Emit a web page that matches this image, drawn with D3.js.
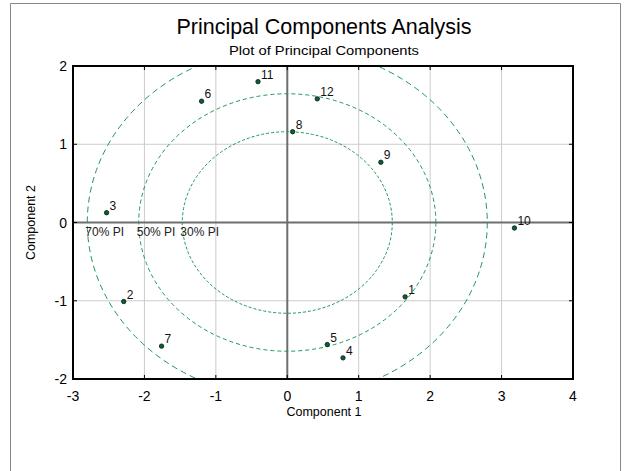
<!DOCTYPE html>
<html><head><meta charset="utf-8">
<script src="https://cdn.jsdelivr.net/npm/d3@7"></script>
<style>body{margin:0;background:#fff}svg{display:block;font-family:"Liberation Sans",Arial,sans-serif}</style>
</head><body>
<script>
const pointIds = ["1","2","3","4","5","6","7","8","9","10","11","12"];
const comp1 = [1.65,-2.29,-2.53,0.78,0.56,-1.20,-1.76,0.075,1.31,3.18,-0.41,0.42];
const comp2 = [-0.95,-1.01,0.125,-1.73,-1.56,1.55,-1.58,1.16,0.77,-0.07,1.80,1.58];
const ellipseLabels = ["70% PI","50% PI","30% PI"];
const ellipseRx = [2.80,2.08,1.47];
const ellipseRy = [2.24,1.645,1.16];
const xTicks = [-3,-2,-1,0,1,2,3,4];
const yTicks = [-2,-1,0,1,2];

const W=627,H=471;
const m={l:73,r:573,t:66,b:379};
const svg=d3.select("body").append("svg").attr("width",W).attr("height",H);
const x=d3.scaleLinear().domain([-3,4]).range([m.l,m.r]);
const y=d3.scaleLinear().domain([-2,2]).range([m.b,m.t]);

// outer frame
svg.append("path").attr("d",`M10.5,${H+2} V3.5 H620.5 V${H+2}`).attr("fill","none").attr("stroke","#888").attr("stroke-width",1);

svg.append("text").attr("x",324).attr("y",34).attr("text-anchor","middle").attr("font-size",21.5).attr("fill","#000").text("Principal Components Analysis");
svg.append("text").attr("x",324).attr("y",55).attr("text-anchor","middle").attr("font-size",13).attr("textLength",190).attr("lengthAdjust","spacingAndGlyphs").attr("fill","#000").text("Plot of Principal Components");

svg.append("clipPath").attr("id","pc").append("rect").attr("x",m.l).attr("y",m.t).attr("width",m.r-m.l).attr("height",m.b-m.t);

// grid
const g=svg.append("g");
g.selectAll(".gx").data(xTicks.filter(d=>d!==0&&d!==-3&&d!==4)).enter().append("line")
 .attr("x1",d=>x(d)).attr("x2",d=>x(d)).attr("y1",m.t).attr("y2",m.b).attr("stroke","#cccccc").attr("stroke-width",1);
g.selectAll(".gy").data(yTicks.filter(d=>d!==0&&d!==-2&&d!==2)).enter().append("line")
 .attr("y1",d=>y(d)).attr("y2",d=>y(d)).attr("x1",m.l).attr("x2",m.r).attr("stroke","#cccccc").attr("stroke-width",1);
// zero lines
g.append("line").attr("x1",x(0)).attr("x2",x(0)).attr("y1",m.t).attr("y2",m.b).attr("stroke","#6e6e6e").attr("stroke-width",2);
g.append("line").attr("y1",y(0)).attr("y2",y(0)).attr("x1",m.l).attr("x2",m.r).attr("stroke","#6e6e6e").attr("stroke-width",2);

// ellipses
const dashes=["6,4","4,3","3,2"];
const eg=svg.append("g").attr("clip-path","url(#pc)");
eg.selectAll("ellipse").data(ellipseRx).enter().append("ellipse")
 .attr("cx",x(0)).attr("cy",y(0))
 .attr("rx",d=>x(d)-x(0)).attr("ry",(d,i)=>y(0)-y(ellipseRy[i]))
 .attr("fill","none").attr("stroke","#1e9657").attr("stroke-width",1).attr("stroke-dasharray",(d,i)=>dashes[i]);
svg.selectAll(".el").data(ellipseLabels).enter().append("text")
 .attr("x",(d,i)=>x(-ellipseRx[i])-2).attr("y",y(0)+13).attr("font-size",12).attr("fill","#222").text(d=>d);

// border
svg.append("rect").attr("x",m.l).attr("y",m.t).attr("width",m.r-m.l).attr("height",m.b-m.t).attr("fill","none").attr("stroke","#000").attr("stroke-width",2);

// inner ticks
svg.selectAll(".tb").data(xTicks).enter().append("line").attr("x1",d=>x(d)).attr("x2",d=>x(d)).attr("y1",m.b).attr("y2",m.b-4).attr("stroke","#000").attr("stroke-width",1);
svg.selectAll(".tt").data(xTicks).enter().append("line").attr("x1",d=>x(d)).attr("x2",d=>x(d)).attr("y1",m.t).attr("y2",m.t+4).attr("stroke","#000").attr("stroke-width",1);
svg.selectAll(".tl").data(yTicks).enter().append("line").attr("y1",d=>y(d)).attr("y2",d=>y(d)).attr("x1",m.l).attr("x2",m.l+4).attr("stroke","#000").attr("stroke-width",1);
svg.selectAll(".tr").data(yTicks).enter().append("line").attr("y1",d=>y(d)).attr("y2",d=>y(d)).attr("x1",m.r).attr("x2",m.r-4).attr("stroke","#000").attr("stroke-width",1);

// tick labels
svg.selectAll(".xl").data(xTicks).enter().append("text").attr("x",d=>x(d)).attr("y",401).attr("text-anchor","middle").attr("font-size",14).text(d=>d);
svg.selectAll(".yl").data(yTicks).enter().append("text").attr("x",67).attr("y",d=>y(d)+5).attr("text-anchor","end").attr("font-size",14).text(d=>d);

svg.append("text").attr("x",324).attr("y",416).attr("text-anchor","middle").attr("font-size",12.5).text("Component 1");
svg.append("text").attr("transform",`translate(35,${(m.t+m.b)/2}) rotate(-90)`).attr("text-anchor","middle").attr("font-size",12.5).text("Component 2");

// points
const pts=pointIds.map((id,i)=>({id,a:comp1[i],b:comp2[i]}));
svg.selectAll(".pt").data(pts).enter().append("circle").attr("cx",d=>x(d.a)).attr("cy",d=>y(d.b)).attr("r",2.2)
 .attr("fill","#006633").attr("stroke","#111").attr("stroke-width",0.8);
svg.selectAll(".pl").data(pts).enter().append("text").attr("x",d=>x(d.a)+3).attr("y",d=>y(d.b)-3).attr("font-size",12).attr("fill","#111").text(d=>d.id);
</script>
</body></html>
